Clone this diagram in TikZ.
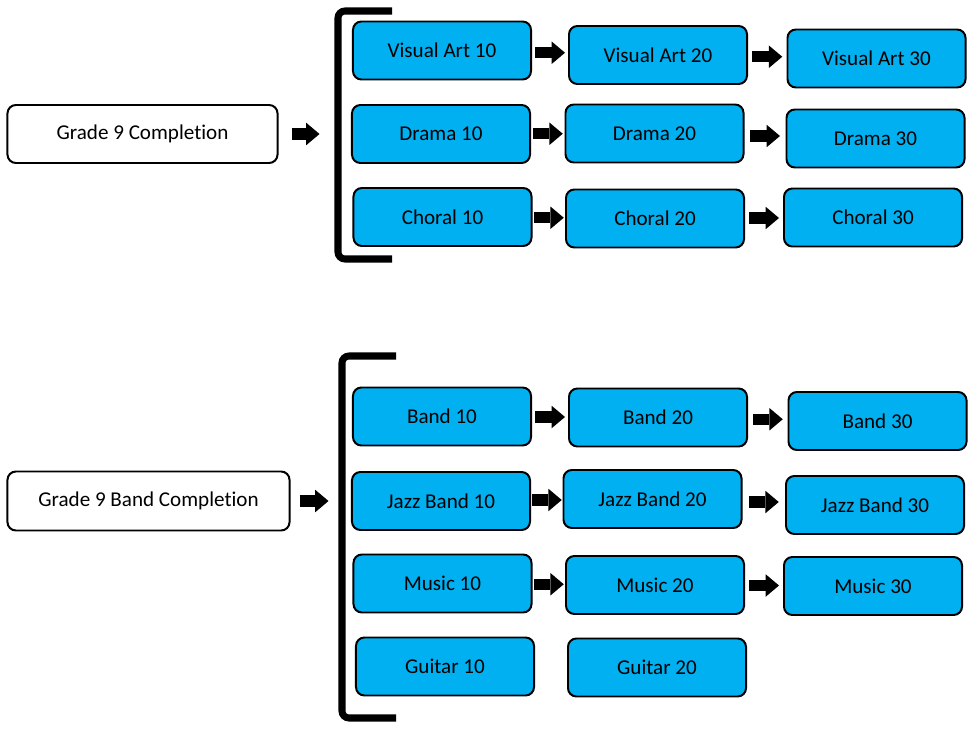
\documentclass[tikz,border=0pt]{standalone}
\usepackage{fontspec}
\setmainfont[Ligatures=NoCommon]{Carlito}
\usepackage{tikz}
\usetikzlibrary{calc}
\usetikzlibrary{arrows.meta,positioning}
\definecolor{courseblue}{RGB}{0,176,240}

\begin{document}
\begin{tikzpicture}[x=0.025cm, y=-0.025cm,
                    font=\fontsize{15}{18}\selectfont]
  % styles
  \tikzstyle{gradebox}=[rectangle,rounded corners=6pt,draw,line width=1.4pt,
                        fill=white,minimum height=1.45cm,inner sep=2pt]
  \tikzstyle{course}=[rectangle,rounded corners=6pt,draw,line width=1.4pt,
                      fill=courseblue,minimum width=4.45cm,minimum height=1.45cm,
                      inner sep=2pt]
  \tikzstyle{blk}=[line width=8pt,
                   -{Triangle[length=9.5pt,width=16pt,line width=0pt]}]
  \tikzstyle{bracket}=[line width=5pt,rounded corners=5pt]

  \useasboundingbox (0,0) rectangle (972,735);

  % top group
  \node[gradebox,minimum width=6.75cm] (g9) at (142.5,134) {Grade 9 Completion};
  \node[course] (va10) at (442,50.5)   {Visual Art 10};
  \node[course] (va20) at (658,55)     {Visual Art 20};
  \node[course] (va30) at (876.5,58.5) {Visual Art 30};
  \node[course] (dr10) at (441,134)    {Drama 10};
  \node[course] (dr20) at (654.5,133.5){Drama 20};
  \node[course] (dr30) at (875.5,138.5){Drama 30};
  \node[course] (ch10) at (442.5,217)  {Choral 10};
  \node[course] (ch20) at (655,218.5)  {Choral 20};
  \node[course] (ch30) at (873,217.5)  {Choral 30};

  % bottom group
  \node[gradebox,minimum width=7.05cm,minimum height=1.475cm] (g9b) at (148.5,501)
       {Grade 9 Band Completion};
  \node[course] (ba10) at (442,416.5)  {Band 10};
  \node[course] (ba20) at (658,417.5)  {Band 20};
  \node[course] (ba30) at (877.5,421)  {Band 30};
  \node[course] (jz10) at (441,501)    {Jazz Band 10};
  \node[course] (jz20) at (652.5,499)  {Jazz Band 20};
  \node[course] (jz30) at (875,505)    {Jazz Band 30};
  \node[course] (mu10) at (442.5,583.5){Music 10};
  \node[course] (mu20) at (655,585)    {Music 20};
  \node[course] (mu30) at (873,586)    {Music 30};
  \node[course] (gt10) at (445,666.5)  {Guitar 10};
  \node[course] (gt20) at (657,667.5)  {Guitar 20};

  % brackets
  \draw[bracket] (392,11) -- (338,11) -- (338,259) -- (392,259);
  \draw[bracket] (396,356) -- (342,356) -- (342,718) -- (396,718);

  % arrows
  \draw[blk] ($(g9.east)+(13,0)$) -- +(28,0);
  \draw[blk] ($(g9b.east)+(9,0)$) -- +(29,0);
  \foreach \a/\b in {va10/va20,va20/va30,dr10/dr20,dr20/dr30,ch10/ch20,ch20/ch30,
                     ba10/ba20,ba20/ba30,jz10/jz20,jz20/jz30,mu10/mu20,mu20/mu30}
    \draw[blk] ($(\a.east)!.5!(\b.west)$) +(-15,0) -- +(15,0);
\end{tikzpicture}
\end{document}
